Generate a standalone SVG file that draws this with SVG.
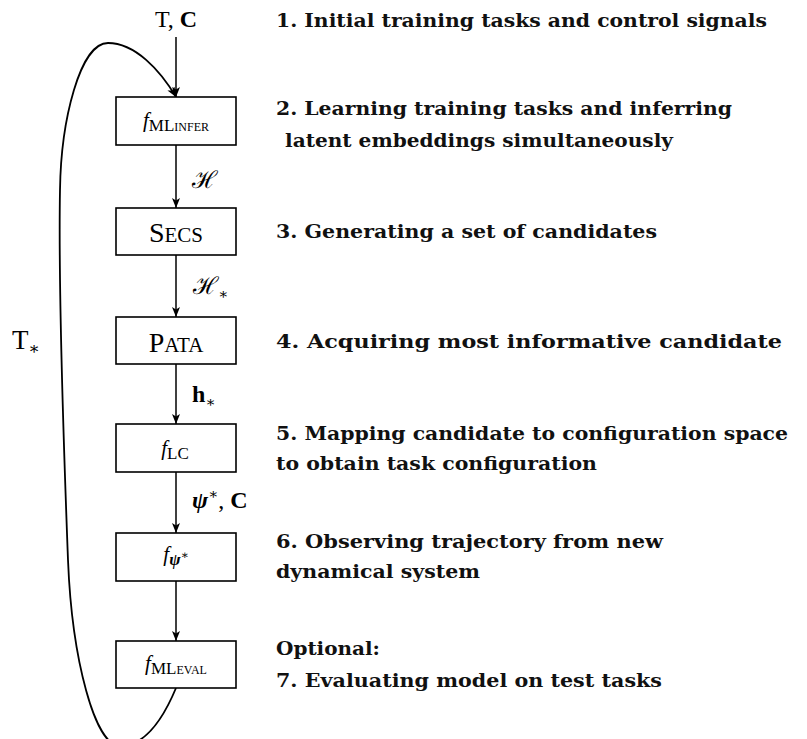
<svg xmlns="http://www.w3.org/2000/svg" width="807" height="739" viewBox="0 0 807 739">
<style>
.box{fill:#fff;stroke:#000;stroke-width:1.6}
.edge{fill:none;stroke:#000;stroke-width:1.5}
.loop{fill:none;stroke:#000;stroke-width:1.8}
.math{font-family:"Liberation Serif","DejaVu Serif",serif;fill:#000}
.step{font-family:"DejaVu Serif",serif;font-weight:bold;font-size:19px;fill:#111}
.it{font-style:italic}
.bf{font-weight:bold}
</style>
<defs>
<marker id="arr" viewBox="0 0 10 8" refX="10" refY="4" markerWidth="10" markerHeight="8" markerUnits="userSpaceOnUse" orient="auto">
<path d="M0,0 L10,4 L0,8 L2.5,4 z" fill="#000"/>
</marker>
</defs>
<rect width="807" height="739" fill="#fff"/>
<g id="connectors">
<line class="edge" x1="176" y1="37" x2="176" y2="97" marker-end="url(#arr)"/>
<line class="edge" x1="176" y1="145" x2="176" y2="208" marker-end="url(#arr)"/>
<line class="edge" x1="176" y1="255" x2="176" y2="317" marker-end="url(#arr)"/>
<line class="edge" x1="176" y1="364" x2="176" y2="424" marker-end="url(#arr)"/>
<line class="edge" x1="176" y1="472" x2="176" y2="533" marker-end="url(#arr)"/>
<line class="edge" x1="176" y1="581" x2="176" y2="641" marker-end="url(#arr)"/>
<path class="loop" d="M176,688 C166,712 148,746 120,746 C95,746 72,660 68,560 C65,480 58,300 60,190 C61,120 80,43 108,43 C135,43 160,70 176,97" marker-end="url(#arr)"/>
<text class="math" x="176" y="27" text-anchor="middle" font-size="24">T, <tspan class="bf">C</tspan></text>
<text class="math" x="192" y="188" font-size="24">ℋ</text>
<text class="math" x="193" y="294" font-size="24">ℋ<tspan font-size="15" dy="5">∗</tspan></text>
<text class="math" x="192" y="402" font-size="24"><tspan class="bf">h</tspan><tspan font-size="15" dy="5">∗</tspan></text>
<text class="math" x="192" y="508" font-size="24"><tspan class="bf it">ψ</tspan><tspan font-size="15" dy="-9">∗</tspan><tspan dy="9">, </tspan><tspan class="bf">C</tspan></text>
<text class="math" x="12" y="349" font-size="27">T<tspan font-size="17" dy="5">∗</tspan></text>
</g>
<g id="n1">
<rect class="box" x="116" y="97" width="120" height="48"/>
<text class="math" x="176" y="127" text-anchor="middle"><tspan class="it" font-size="21">f</tspan><tspan font-size="17" dy="4">ML</tspan><tspan font-size="12">INFER</tspan></text>
</g>
<g id="n2">
<rect class="box" x="116" y="208" width="120" height="47"/>
<text class="math" x="176" y="242" text-anchor="middle" font-size="28">S<tspan font-size="21">ECS</tspan></text>
</g>
<g id="n3">
<rect class="box" x="116" y="317" width="120" height="47"/>
<text class="math" x="176" y="352" text-anchor="middle" font-size="28">P<tspan font-size="21">ATA</tspan></text>
</g>
<g id="n4">
<rect class="box" x="116" y="424" width="120" height="48"/>
<text class="math" x="175" y="455" text-anchor="middle"><tspan class="it" font-size="21">f</tspan><tspan font-size="17" dy="4">LC</tspan></text>
</g>
<g id="n5">
<rect class="box" x="116" y="533" width="120" height="48"/>
<text class="math" x="176" y="561" text-anchor="middle"><tspan class="it" font-size="21">f</tspan><tspan class="bf it" font-size="17" dy="4">ψ</tspan><tspan font-size="12" dy="-6">∗</tspan></text>
</g>
<g id="n6">
<rect class="box" x="116" y="641" width="120" height="47"/>
<text class="math" x="176" y="670" text-anchor="middle"><tspan class="it" font-size="21">f</tspan><tspan font-size="17" dy="4">ML</tspan><tspan font-size="12">EVAL</tspan></text>
</g>
<g id="steps">
<text class="step" x="276" y="27" textLength="491" lengthAdjust="spacingAndGlyphs">1. Initial training tasks and control signals</text>
<text class="step" x="276" y="115" textLength="456" lengthAdjust="spacingAndGlyphs">2. Learning training tasks and inferring</text>
<text class="step" x="285" y="147" textLength="388" lengthAdjust="spacingAndGlyphs">latent embeddings simultaneously</text>
<text class="step" x="276" y="238" textLength="381" lengthAdjust="spacingAndGlyphs">3. Generating a set of candidates</text>
<text class="step" x="276" y="348" textLength="506" lengthAdjust="spacingAndGlyphs">4. Acquiring most informative candidate</text>
<text class="step" x="276" y="440" textLength="512" lengthAdjust="spacingAndGlyphs">5. Mapping candidate to configuration space</text>
<text class="step" x="276" y="470" textLength="321" lengthAdjust="spacingAndGlyphs">to obtain task configuration</text>
<text class="step" x="276" y="548" textLength="387" lengthAdjust="spacingAndGlyphs">6. Observing trajectory from new</text>
<text class="step" x="276" y="578" textLength="204" lengthAdjust="spacingAndGlyphs">dynamical system</text>
<text class="step" x="276" y="655" textLength="104" lengthAdjust="spacingAndGlyphs">Optional:</text>
<text class="step" x="276" y="687" textLength="386" lengthAdjust="spacingAndGlyphs">7. Evaluating model on test tasks</text>
</g>
</svg>
